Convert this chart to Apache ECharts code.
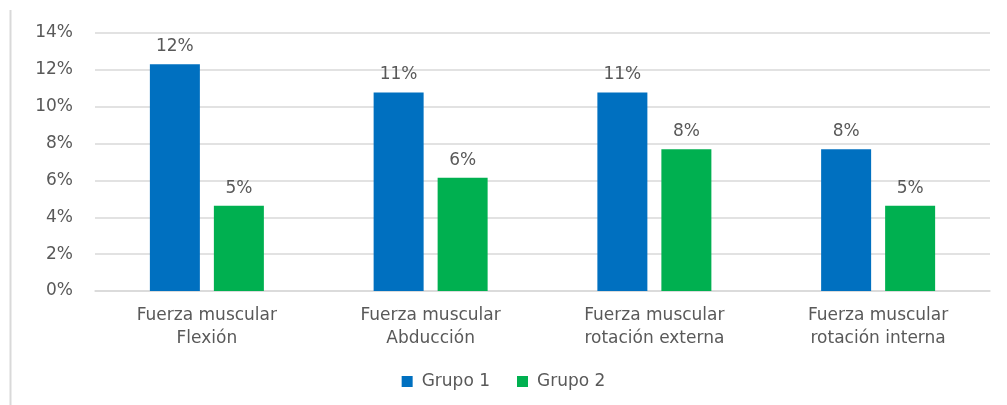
<!DOCTYPE html>
<html>
<head>
<meta charset="utf-8">
<script src="https://cdn.jsdelivr.net/npm/echarts@6/dist/echarts.min.js"></script>
<style>
    html, body { margin: 0; padding: 0; background: #fff; }
    #chart { width: 1007px; height: 405px; }
</style>
</head>
<body>
<div id="chart"></div>
<script>
    // categorias y valores (porcentaje)
    const categorias = [
        'Fuerza muscular\nFlexión',
        'Fuerza muscular\nAbducción',
        'Fuerza muscular\nrotación externa',
        'Fuerza muscular\nrotación interna'
    ]
    const grupo1 = [12.31, 10.77, 10.77, 7.69]
    const grupo2 = [4.62, 6.15, 7.69, 4.62]
    const nombres = ['Grupo 1', 'Grupo 2']

    const fuente = 'DejaVu Sans'
    const gris = '#595959'
    const tam = 17

    let chart = echarts.init(document.getElementById('chart'))

    const option = {
        animation: false,
        textStyle: { fontFamily: fuente },
        graphic: [
            {
                type: 'line',
                shape: { x1: 10.5, y1: 10, x2: 10.5, y2: 405 },
                style: { stroke: '#d9d9d9', lineWidth: 2 }
            }
        ],
        legend: {
            data: nombres,
            bottom: 10,
            left: 'center',
            icon: 'rect',
            itemWidth: 11,
            itemHeight: 11,
            itemGap: 27,
            textStyle: { color: gris, fontSize: tam, fontFamily: fuente, padding: [0, 0, 0, 4] }
        },
        grid: {
            left: 95,
            right: 17,
            top: 33,
            bottom: 114
        },
        xAxis: {
            type: 'category',
            data: categorias,
            axisLine: { lineStyle: { color: '#d9d9d9', width: 1.5 } },
            axisTick: { show: false },
            axisLabel: {
                color: gris,
                fontSize: tam,
                lineHeight: 23,
                margin: 13,
                fontFamily: fuente
            }
        },
        yAxis: {
            type: 'value',
            min: 0,
            max: 14,
            interval: 2,
            axisLine: { show: false },
            axisTick: { show: false },
            splitLine: { lineStyle: { color: '#d9d9d9', width: 1.5 } },
            axisLabel: {
                color: gris,
                fontSize: tam,
                margin: 22,
                fontFamily: fuente,
                formatter: function (v) { return v + '%' }
            }
        },
        series: [
            {
                name: nombres[0],
                type: 'bar',
                data: grupo1,
                barWidth: 50,
                barGap: '28%',
                itemStyle: { color: '#0070C0' },
                label: {
                    show: true,
                    position: 'top',
                    distance: 9,
                    color: gris,
                    fontSize: tam,
                    fontFamily: fuente,
                    formatter: function (p) { return Math.round(p.value) + '%' }
                }
            },
            {
                name: nombres[1],
                type: 'bar',
                data: grupo2,
                barWidth: 50,
                itemStyle: { color: '#00B050' },
                label: {
                    show: true,
                    position: 'top',
                    distance: 9,
                    color: gris,
                    fontSize: tam,
                    fontFamily: fuente,
                    formatter: function (p) { return Math.round(p.value) + '%' }
                }
            }
        ]
    }
    chart.setOption(option)
</script>
</body>
</html>
